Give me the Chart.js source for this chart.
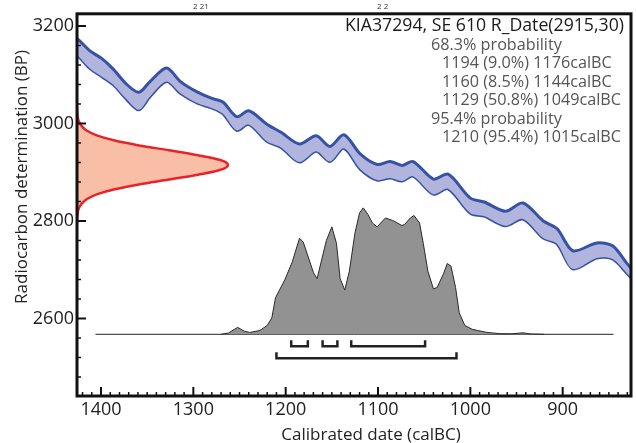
<!DOCTYPE html>
<html>
<head>
<meta charset="utf-8">
<script src="https://cdn.jsdelivr.net/npm/chart.js@4.4.1/dist/chart.umd.min.js"></script>
<style>
  body { margin: 0; background: #fff; }
  #wrap { width: 636px; height: 443px; }
</style>
</head>
<body>
<div id="wrap"><canvas id="calChart" width="636" height="443"></canvas></div>
<script>
// calibration curve band (calBC, upper / lower edge in BP)
const curveYears = [1430, 1424, 1412, 1399, 1387, 1372, 1359, 1347, 1329, 1314, 1296, 1279, 1268, 1253, 1240, 1220, 1205, 1185, 1167, 1152, 1137, 1119, 1101, 1087, 1074, 1062, 1040, 1024, 1000, 985, 962, 943, 921, 906, 889, 863, 846, 830, 820];
const curveUpper = [3180, 3171, 3149, 3133, 3112, 3080, 3064, 3086, 3114, 3086, 3065, 3051, 3044, 3014, 3026, 2998, 2982, 2958, 2975, 2953, 2977, 2937, 2916, 2922, 2914, 2922, 2886, 2896, 2847, 2839, 2820, 2837, 2800, 2784, 2739, 2755, 2749, 2712, 2690];
const curveLower = [3146, 3137, 3113, 3096, 3080, 3049, 3028, 3055, 3086, 3062, 3042, 3031, 3020, 2986, 2998, 2963, 2951, 2921, 2943, 2922, 2949, 2906, 2884, 2888, 2882, 2892, 2855, 2866, 2816, 2810, 2790, 2804, 2765, 2753, 2702, 2724, 2722, 2692, 2672];

// calibrated date distribution (calBC, relative probability)
const distYears = [1270, 1262, 1252, 1245, 1239, 1228, 1220, 1215, 1211, 1201, 1193, 1185, 1181, 1170, 1166, 1156, 1150, 1145, 1141, 1136, 1131, 1125, 1120, 1116, 1111, 1106, 1101, 1092, 1084, 1074, 1071, 1065, 1061, 1055, 1051, 1046, 1040, 1036, 1029, 1025, 1021, 1016, 1012, 1006, 998, 992, 982, 968, 955, 943, 935, 920];
const distProb = [0, 0.01, 0.055, 0.025, 0.015, 0.03, 0.07, 0.13, 0.29, 0.43, 0.57, 0.76, 0.73, 0.49, 0.44, 0.74, 0.85, 0.72, 0.44, 0.35, 0.50, 0.80, 0.96, 1.0, 0.95, 0.88, 0.85, 0.92, 0.90, 0.86, 0.87, 0.92, 0.94, 0.88, 0.72, 0.50, 0.36, 0.37, 0.48, 0.56, 0.54, 0.37, 0.17, 0.07, 0.04, 0.03, 0.015, 0.005, 0.004, 0.012, 0.003, 0];
const baselineYears = [1406, 845];

// measured radiocarbon date (BP, relative probability)
const measBP = [2795, 2805, 2815, 2825, 2835, 2845, 2855, 2865, 2875, 2885, 2895, 2905, 2915, 2925, 2935, 2945, 2955, 2965, 2975, 2985, 2995, 3005, 3015, 3025, 3035];
const measProb = [0, 0.001, 0.004, 0.011, 0.03, 0.066, 0.135, 0.25, 0.41, 0.61, 0.80, 0.95, 1.0, 0.95, 0.80, 0.61, 0.41, 0.25, 0.135, 0.066, 0.03, 0.011, 0.004, 0.001, 0];

// ranges (calBC)
const ranges68 = [[1194, 1176], [1160, 1144], [1129, 1049]];
const ranges95 = [[1210, 1015]];

const xTicks = [1400, 1300, 1200, 1100, 1000, 900];
const yTicks = [2600, 2800, 3000, 3200];

const titleText = "KIA37294, SE 610 R_Date(2915,30)";
const summaryLines = [
    ["68.3% probability", 0],
    ["1194 (9.0%) 1176calBC", 1],
    ["1160 (8.5%) 1144calBC", 1],
    ["1129 (50.8%) 1049calBC", 1],
    ["95.4% probability", 0],
    ["1210 (95.4%) 1015calBC", 1]
];

const FONT = '"Open Sans", "Noto Sans", sans-serif';

// bracket under the distribution, on the probability axis
function bracket(range, level, top) {
    return {
        xAxisID: "x", yAxisID: "yp",
        data: [
            { x: range[0], y: top }, { x: range[0], y: level },
            { x: range[1], y: level }, { x: range[1], y: top }
        ],
        showLine: true, borderColor: "#222", borderWidth: 2.5,
        pointRadius: 0, tension: 0, fill: false
    };
}

// frame, inside ticks and texts
const framePlugin = {
    id: "frame",
    afterDatasetsDraw(chart) {
        const { ctx, chartArea: a, scales } = chart;
        ctx.save();
        ctx.strokeStyle = "#111";
        for (let v = 830; v <= 1420; v += 10) {
            const px = scales.x.getPixelForValue(v);
            const major = v % 100 === 0;
            ctx.lineWidth = major ? 2 : 1.5;
            ctx.beginPath();
            ctx.moveTo(px, a.bottom);
            ctx.lineTo(px, a.bottom - (major ? 9 : 4));
            ctx.stroke();
        }
        for (let v = 3200; v >= 2460; v -= 40) {
            const py = scales.y.getPixelForValue(v);
            const major = v % 200 === 0;
            ctx.lineWidth = major ? 2 : 1.5;
            ctx.beginPath();
            ctx.moveTo(a.left, py);
            ctx.lineTo(a.left + (major ? 9 : 4), py);
            ctx.stroke();
        }
        ctx.lineWidth = 3;
        ctx.strokeRect(a.left, a.top, a.right - a.left, a.bottom - a.top);

        // title block
        ctx.textBaseline = "alphabetic";
        ctx.font = "17.7px " + FONT;
        ctx.fillStyle = "#1a1a1a";
        ctx.textAlign = "right";
        ctx.fillText(titleText, 624, 31);
        ctx.font = "16.2px " + FONT;
        ctx.textAlign = "left";
        ctx.fillStyle = "#555";
        summaryLines.forEach((l, i) => {
            ctx.fillText(l[0], 431 + l[1] * 11, 49.5 + i * 18.5);
        });

        // axis titles
        ctx.font = "17px " + FONT;
        ctx.fillStyle = "#222";
        ctx.textAlign = "center";
        ctx.fillText("Calibrated date (calBC)", 371, 440);
        ctx.save();
        ctx.translate(27, 177);
        ctx.rotate(-Math.PI / 2);
        ctx.fillText("Radiocarbon determination (BP)", 0, 0);
        ctx.restore();

        // small labels above the frame
        ctx.font = "8px " + FONT;
        ctx.fillStyle = "#333";
        ctx.textAlign = "left";
        ctx.fillText("2 21", 193, 9);
        ctx.fillText("2 2", 377, 9);
        ctx.restore();
    }
};

const ctx = document.getElementById("calChart").getContext("2d");

const calChart = new Chart(ctx, {
    type: "scatter",
    data: {
        datasets: [
            {
                data: curveYears.map((yr, i) => ({ x: yr, y: curveUpper[i] })),
                showLine: true, borderColor: "#3552a4", borderWidth: 3,
                backgroundColor: "#b1b5dd", fill: "+1",
                pointRadius: 0, tension: 0.3
            },
            {
                data: curveYears.map((yr, i) => ({ x: yr, y: curveLower[i] })),
                showLine: true, borderColor: "#3552a4", borderWidth: 3,
                fill: false, pointRadius: 0, tension: 0.3
            },
            {
                xAxisID: "xp", yAxisID: "y",
                data: measBP.map((bp, i) => ({ x: measProb[i], y: bp })),
                showLine: true, borderColor: "#e8232b", borderWidth: 2.5,
                backgroundColor: "#f9bfa6", fill: "shape",
                pointRadius: 0, tension: 0.35
            },
            {
                xAxisID: "x", yAxisID: "yp",
                data: distYears.map((yr, i) => ({ x: yr, y: distProb[i] })),
                showLine: true, borderColor: "#2a2a2a", borderWidth: 1,
                backgroundColor: "#929292", fill: "origin",
                pointRadius: 0, tension: 0
            },
            {
                xAxisID: "x", yAxisID: "yp",
                data: baselineYears.map(yr => ({ x: yr, y: 0 })),
                showLine: true, borderColor: "#222", borderWidth: 1,
                pointRadius: 0, fill: false
            },
            ...ranges68.map(r => bracket(r, -0.094, -0.047)),
            ...ranges95.map(r => bracket(r, -0.189, -0.142))
        ]
    },
    options: {
        responsive: false,
        animation: false,
        layout: { padding: { left: 0, right: 5, top: 12, bottom: 0 } },
        plugins: { legend: { display: false }, tooltip: { enabled: false } },
        scales: {
            x: {
                type: "linear", reverse: true, min: 826, max: 1426,
                grid: { display: false, drawTicks: false },
                border: { display: false },
                ticks: {
                    padding: 3, color: "#222",
                    font: { family: FONT, size: 18 },
                    callback: v => String(v)
                },
                afterBuildTicks: s => { s.ticks = xTicks.map(v => ({ value: v })); },
                afterFit: s => { s.height = 47; }
            },
            y: {
                type: "linear", min: 2441, max: 3225,
                grid: { display: false, drawTicks: false },
                border: { display: false },
                ticks: {
                    padding: 3, color: "#222",
                    font: { family: FONT, size: 18 },
                    callback: v => String(v)
                },
                afterBuildTicks: s => { s.ticks = yTicks.map(v => ({ value: v })); },
                afterFit: s => { s.width = 77; }
            },
            xp: { type: "linear", display: false, min: 0, max: 3.67 },
            yp: { type: "linear", display: false, min: -0.488, max: 2.535 }
        }
    },
    plugins: [framePlugin]
});
</script>
</body>
</html>
